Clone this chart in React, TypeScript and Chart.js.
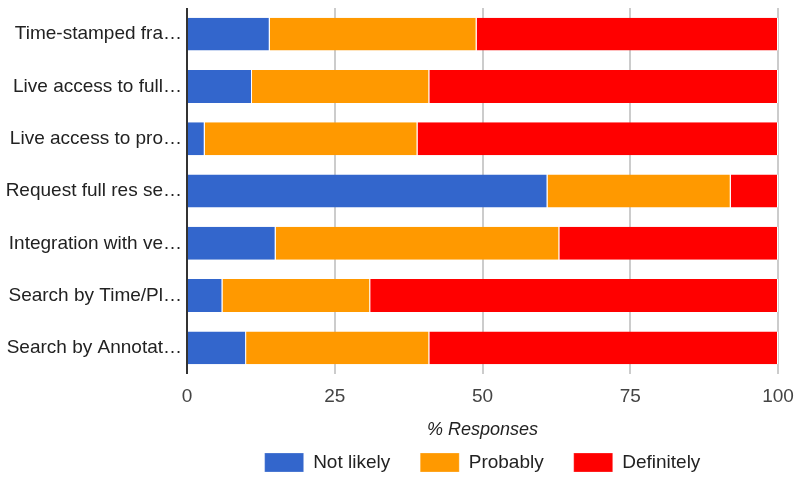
import React, { useEffect, useRef } from "react";
import { Chart, registerables } from "chart.js";

Chart.register(...registerables);

const categories = [
  "Time-stamped fra…",
  "Live access to full…",
  "Live access to pro…",
  "Request full res se…",
  "Integration with ve…",
  "Search by Time/Pl…",
  "Search by Annotat…",
];
const notLikely = [14, 11, 3, 61, 15, 6, 10];
const probably = [35, 30, 36, 31, 48, 25, 31];
const definitely = [51, 59, 61, 8, 37, 69, 59];
const xTicks = [0, 25, 50, 75, 100];
const axisTitle = "% Responses";

const FONT = "Arial, 'Liberation Sans', sans-serif";

export default function App() {
  const ref = useRef<HTMLCanvasElement>(null);
  useEffect(() => {
    document.body.style.margin = "0";
    const ctx = ref.current!.getContext("2d")!;
    const seg = (label: string, data: number[], color: string) => ({
      label,
      data,
      backgroundColor: color,
      borderColor: "#ffffff",
      borderWidth: { top: 0, bottom: 0, left: 0, right: 1 },
      borderSkipped: false as const,
      barPercentage: 0.63,
      categoryPercentage: 1,
    });
    const legendPlacer = {
      id: "legendPlacer",
      afterLayout(chart: any) {
        const lg = chart.legend;
        if (!lg) return;
        const ca = chart.chartArea;
        const center = (ca.left + ca.right) / 2;
        const cur = (lg.left + lg.right) / 2;
        const dx = center - cur;
        lg.left += dx;
        lg.right += dx;
        const h = lg.height;
        lg.top = 423;
        lg.bottom = 423 + h;
      },
    };
    const chart = new Chart(ctx, {
      type: "bar",
      data: {
        labels: categories,
        datasets: [
          seg("Not likely", notLikely, "#3366cc"),
          seg("Probably", probably, "#ff9900"),
          seg("Definitely", definitely, "#ff0000"),
        ],
      },
      options: {
        indexAxis: "y",
        responsive: false,
        animation: false,
        layout: { padding: { top: 8, right: 18, left: 0, bottom: 0 } },
        plugins: {
          tooltip: { enabled: false },
          legend: {
            position: "bottom",
            labels: {
              boxWidth: 39,
              boxHeight: 19,
              padding: 30,
              color: "#222222",
              font: { family: FONT, size: 19 },
            },
          },
        },
        scales: {
          x: {
            stacked: true,
            min: 0,
            max: 100,
            afterBuildTicks: (s: any) => {
              s.ticks = xTicks.map((v) => ({ value: v }));
            },
            afterFit: (s: any) => {
              s.height = 44;
              s.paddingLeft = 0;
              s.paddingRight = 0;
            },
            ticks: {
              color: "#444444",
              padding: 11,
              font: { family: FONT, size: 19 },
            },
            grid: {
              drawTicks: false,
              lineWidth: 2,
              color: (c: any) => (c.tick && c.tick.value === 0 ? "#333333" : "#cccccc"),
            },
            border: { display: false },
            title: {
              display: true,
              text: axisTitle,
              color: "#222222",
              padding: { top: 0, bottom: -23 },
              font: { family: FONT, size: 18, style: "italic" },
            },
          },
          y: {
            stacked: true,
            afterFit: (s: any) => {
              s.width = 187;
              s.paddingTop = 0;
              s.paddingBottom = 0;
            },
            ticks: {
              color: "#222222",
              padding: 5,
              font: { family: FONT, size: 19 },
            },
            grid: { display: false, drawTicks: false },
            border: { display: false },
          },
        },
      },
      plugins: [legendPlacer],
    });
    return () => chart.destroy();
  }, []);
  return (
    <canvas
      ref={ref}
      width={796}
      height={477}
      style={{ display: "block", position: "fixed", left: 0, top: 0 }}
    />
  );
}
